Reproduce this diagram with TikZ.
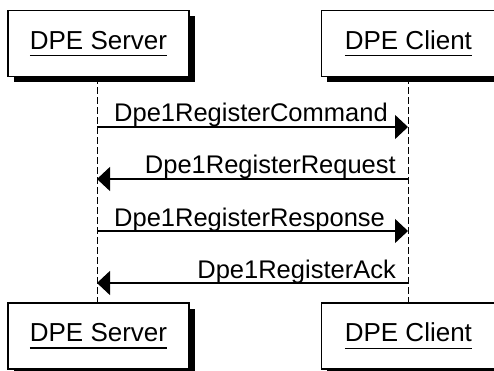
\documentclass[tikz,border=0pt]{standalone}
\usepackage{fontspec}
\setmainfont{Liberation Sans}
\usetikzlibrary{arrows.meta,shadows}
\newcommand\ulbox[1]{\setbox0\hbox{#1}\rlap{\rule[-7pt]{\wd0}{1.3pt}}\box0}
\begin{document}
\begin{tikzpicture}[x=1pt,y=-1pt,
  actor/.style={draw=black, line width=1.4pt, fill=white,
    minimum width=181pt, minimum height=66pt, inner sep=0pt,
    drop shadow={shadow xshift=6pt, shadow yshift=-6pt, fill=black, opacity=1},
    font=\fontsize{26}{30}\selectfont},
  life/.style={line width=1pt, dash pattern=on 7pt off 3pt},
  msg/.style={line width=1.3pt, -{Triangle[length=13pt,width=24pt]}},
  lbl/.style={font=\fontsize{25.5}{30}\selectfont, inner sep=0pt}]
\useasboundingbox (0,0) rectangle (494,371);
\coordinate (sx) at (97,0);
\coordinate (cx) at (408,0);
% actors
\node[actor] (sT) at (98.5,43.5) {\ulbox{DPE Server}};
\node[actor, minimum width=174pt] (cT) at (408.4,43.5) {\ulbox{DPE Client}};
\node[actor] (sB) at (98.5,336) {\ulbox{DPE Server}};
\node[actor, minimum width=174pt] (cB) at (408.4,336) {\ulbox{DPE Client}};
% lifelines
\draw[life] (sT.south -| sx) -- (sB.north -| sx);
\draw[life] (cT.south -| cx) -- (cB.north -| cx);
% message end points
\coordinate (m1s) at (97,127);  \coordinate (m1c) at (408,127);
\coordinate (m2s) at (97,179);  \coordinate (m2c) at (408,179);
\coordinate (m3s) at (97,231);  \coordinate (m3c) at (408,231);
\coordinate (m4s) at (97,283);  \coordinate (m4c) at (408,283);
% messages
\draw[msg] (m1s) -- (m1c);
\draw[msg] (m2c) -- (m2s);
\draw[msg] (m3s) -- (m3c);
\draw[msg] (m4c) -- (m4s);
% labels
\node[lbl, anchor=base west] (l1) at (114,122) {Dpe1RegisterCommand};
\node[lbl, anchor=base east] (l2) at (396,174) {Dpe1RegisterRequest};
\node[lbl, anchor=base west] (l3) at (114,226) {Dpe1RegisterResponse};
\node[lbl, anchor=base east] (l4) at (396,278) {Dpe1RegisterAck};
\end{tikzpicture}
\end{document}
